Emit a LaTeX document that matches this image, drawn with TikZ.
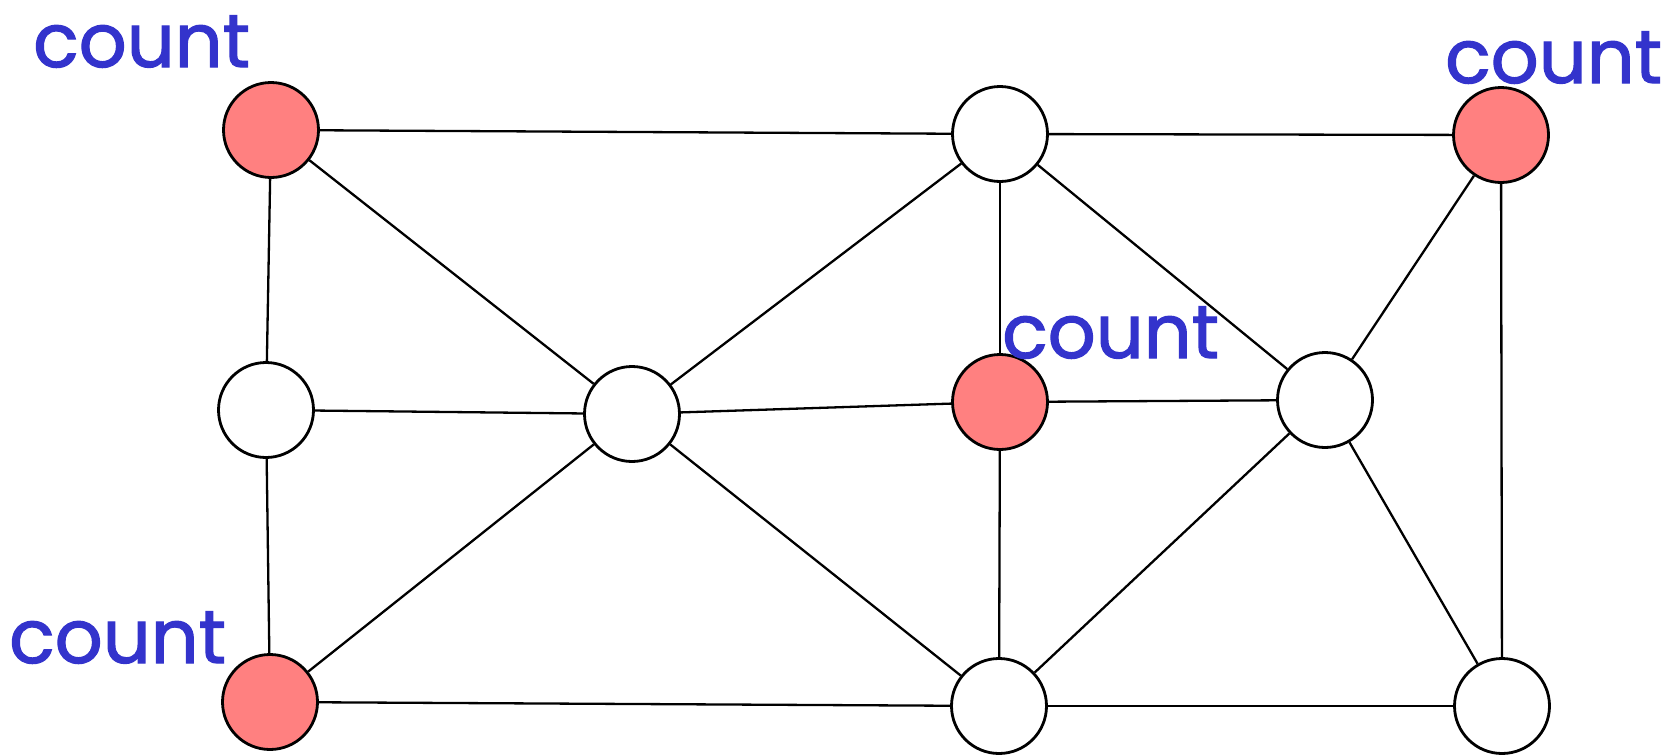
\documentclass[tikz,border=0pt]{standalone}
\usepackage{fontspec}
\newfontfamily\countfont[FakeBold=1.6]{Poppins}
\definecolor{cred}{HTML}{FF8080}
\definecolor{cblue}{HTML}{3333CC}
\tikzset{
  vtx/.style={circle, draw=black, line width=2.8pt, minimum size=95pt, inner sep=0pt, fill=white},
  hot/.style={vtx, fill=cred},
  edge/.style={draw=black, line width=2.3pt},
  lbl/.style={anchor=base west, inner sep=0pt, text=cblue, font=\countfont\fontsize{75}{75}\selectfont}
}
\begin{document}
\begin{tikzpicture}[x=1pt,y=-1pt]
\useasboundingbox (0,0) rectangle (1668,755);
\node[hot] (A) at (271,130) {};
\node[vtx] (B) at (1000,134) {};
\node[hot] (C) at (1501,135) {};
\node[vtx] (D) at (266,410) {};
\node[vtx] (E) at (632,414) {};
\node[hot] (F) at (1000,402) {};
\node[vtx] (G) at (1325,400) {};
\node[hot] (H) at (270,702) {};
\node[vtx] (I) at (999,706) {};
\node[vtx] (J) at (1502,706) {};
\foreach \a/\b in {A/B,B/C,A/D,A/E,B/E,B/F,B/G,C/G,C/J,D/E,E/F,F/G,D/H,E/H,E/I,F/I,G/I,G/J,H/I,I/J}
  \draw[edge] (\a) -- (\b);
\node[lbl] (t1) at (33,67) {count};
\node[lbl] (t2) at (1445,83) {count};
\node[lbl] (t3) at (1002,358) {count};
\node[lbl] (t4) at (9,663) {count};
\end{tikzpicture}
\end{document}
